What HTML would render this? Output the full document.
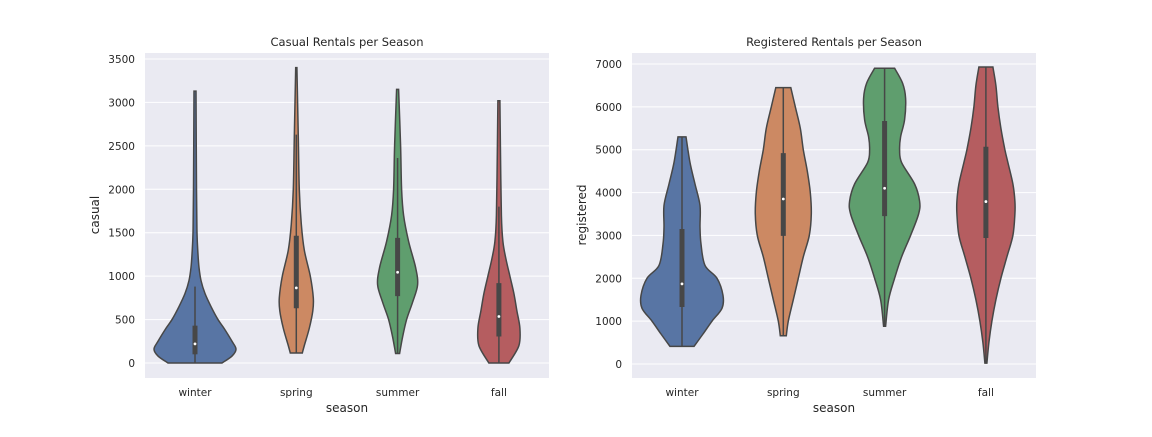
<!DOCTYPE html>
<html><head><meta charset="utf-8"><style>
body{margin:0;background:#fff;}
svg text{font-family:"DejaVu Sans","Liberation Sans",sans-serif;fill:#262626;}
</style></head><body>
<svg id="chart" width="1152" height="432" viewBox="0 0 1152 432"></svg>
<script>
const categories = ["winter","spring","summer","fall"];
const colors = ["#5875a4","#cc8963","#5f9e6e","#b55d60"];
// casual: [value, density] pairs per season
const casualShapes = [
 [[0,27],[80,37],[160,41],[250,37],[400,29],[500,23],[650,16],[800,10],[950,6],[1100,4],[1250,3],[1500,2],[2000,1.5],[3130,1]],
 [[115,6],[200,8],[400,13],[600,16.5],[750,17],[1000,14],[1300,8],[1600,5],[2000,3],[2600,2],[3400,0.6]],
 [[110,2],[300,5],[500,9],[700,15],[900,20],[1100,18],[1400,11],[1700,6],[2000,4],[2500,3],[3150,1]],
 [[0,10],[200,20],[400,21],[600,18],[800,15],[1000,11],[1200,7],[1400,4],[1700,2.5],[2500,1.5],[3020,1]]
];
const casualBox = [[0,100,220,430,880],[115,630,865,1465,2630],[110,770,1045,1440,2360],[0,305,535,920,1800]];
const regShapes = [
 [[410,12],[700,21],[1000,30],[1300,40],[1600,41],[2000,35],[2300,23],[2800,19],[3200,18],[3700,18],[4200,13],[4700,8],[5300,4]],
 [[660,3],[1000,5],[1500,10],[2000,15],[2500,20],[3000,26],[3500,28],[4000,27],[4500,24],[5000,20],[5500,17],[6000,12],[6450,7.5]],
 [[880,1],[1500,4],[2000,10],[2500,17],[3000,26],[3500,34],[3800,35],[4200,30],[4700,17],[5000,15],[5300,16],[5700,20],[6200,21],[6550,18],[6900,10]],
 [[20,1],[500,3],[1000,6],[1500,10],[2000,15],[2500,21],[3000,27],[3500,29],[3800,29],[4200,27],[4700,22],[5000,19],[5500,15],[6000,12],[6500,10],[6930,7]]
];
const regBox = [[410,1330,1870,3150,5300],[660,2990,3850,4920,6450],[880,3450,4100,5670,6900],[20,2940,3790,5070,6930]];
const casualTicks = [0,500,1000,1500,2000,2500,3000,3500];
const regTicks = [0,1000,2000,3000,4000,5000,6000,7000];

const NS="http://www.w3.org/2000/svg";
const svg=document.getElementById('chart');
function el(tag,attrs,parent){const e=document.createElementNS(NS,tag);for(const k in attrs)e.setAttribute(k,attrs[k]);(parent||svg).appendChild(e);return e;}
function smooth(pts){let d="M"+pts[0][0]+","+pts[0][1];for(let i=0;i<pts.length-1;i++){const p0=pts[Math.max(0,i-1)],p1=pts[i],p2=pts[i+1],p3=pts[Math.min(pts.length-1,i+2)];
 const c1=[p1[0]+(p2[0]-p0[0])/6,p1[1]+(p2[1]-p0[1])/6],c2=[p2[0]-(p3[0]-p1[0])/6,p2[1]-(p3[1]-p1[1])/6];
 d+=` C${c1[0]},${c1[1]} ${c2[0]},${c2[1]} ${p2[0]},${p2[1]}`;}return d;}

function panel(cfg){
 const g=el('g',{});
 
 
 const bg=el('rect',{x:cfg.x0,y:53,width:404,height:325,fill:'#eaeaf2'},g);
 
 
 const y=v=>cfg.yZero-(v/cfg.yMax)*(cfg.yZero-cfg.yTop);
 const xc=i=>cfg.x0+50+i*101.3;
 cfg.ticks.forEach(t=>{
  const gl=el('line',{x1:cfg.x0,x2:cfg.x0+404,y1:y(t),y2:y(t),stroke:'#fff','stroke-width':1},g);
  
  
  const tl=el('text',{x:cfg.x0-10,y:y(t)+4,'text-anchor':'end','font-size':10.5},g);
  
  
  tl.textContent=t;
 });
 categories.forEach((c,i)=>{
  const sh=cfg.shapes[i],cx=xc(i);
  const right=sh.map(p=>[cx+p[1],y(p[0])]);
  const left=sh.slice().reverse().map(p=>[cx-p[1],y(p[0])]);
  const d=smooth(right)+" L"+left[0][0]+","+left[0][1]+smooth(left).slice(smooth(left).indexOf(' '))+" Z";
  const v=el('path',{d:d,fill:colors[i],stroke:'#474747','stroke-width':1.5},g);
  
  
  const b=cfg.box[i];
  const wl=el('line',{x1:cx,x2:cx,y1:y(b[0]),y2:y(b[4]),stroke:'#474747','stroke-width':1.5},g);
  
  
  const bx=el('line',{x1:cx,x2:cx,y1:y(b[1]),y2:y(b[3]),stroke:'#474747','stroke-width':5},g);
  
  
  const md=el('circle',{cx:cx,cy:y(b[2]),r:1.4,fill:'#fff'},g);
  
  
  const xl=el('text',{x:cx,y:396,'text-anchor':'middle','font-size':10.5},g);
  
  
  xl.textContent=c;
 });
 const ti=el('text',{x:cfg.x0+202,y:46,'text-anchor':'middle','font-size':11.5},g);
 
 
 ti.textContent=cfg.title;
 const xa=el('text',{x:cfg.x0+202,y:412,'text-anchor':'middle','font-size':12},g);
 
 
 xa.textContent='season';
 const ya=el('text',{x:0,y:0,'text-anchor':'middle','font-size':12,transform:`translate(${cfg.x0-46},215) rotate(-90)`},g);
 
 
 ya.textContent=cfg.ylabel;
}
panel({name:'casual-panel',x0:145,yZero:363,yTop:59,yMax:3500,ticks:casualTicks,shapes:casualShapes,box:casualBox,title:'Casual Rentals per Season',ylabel:'casual'});
panel({name:'registered-panel',x0:632,yZero:364,yTop:64,yMax:7000,ticks:regTicks,shapes:regShapes,box:regBox,title:'Registered Rentals per Season',ylabel:'registered'});
</script>
</body></html>
